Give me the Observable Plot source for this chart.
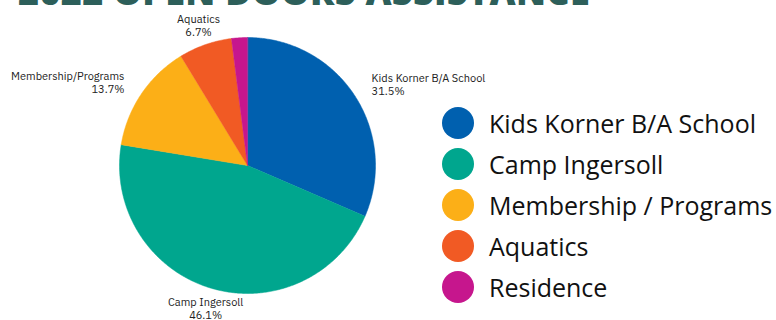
<!DOCTYPE html>
<html>
<head>
<meta charset="utf-8">
<script src="https://cdn.jsdelivr.net/npm/d3@7"></script>
<script src="https://cdn.jsdelivr.net/npm/@observablehq/plot@0.6"></script>
<style>
  html, body { margin: 0; padding: 0; background: #fff; }
  #wrap { position: relative; width: 776px; height: 320px; overflow: hidden; }
  #title { position: absolute; left: 18px; top: -26px; font: 800 36px/1 "Open Sans", "DejaVu Sans", sans-serif; color: #2D5F5A; white-space: nowrap; letter-spacing: 0.3px; }
  #legend { position: absolute; left: 442px; top: 102px; font-family: "Open Sans", "Noto Sans", sans-serif; }
  .row { display: flex; align-items: center; height: 41px; }
  .sw { width: 32px; height: 32px; border-radius: 50%; margin-right: 15px; flex: none; }
  .lab { font-size: 25px; color: #111; white-space: nowrap; }
</style>
</head>
<body>
<div id="wrap">
  <div id="chart"></div>
  <div id="title"></div>
  <div id="legend"></div>
</div>
<script>
const titleText = "2022 OPEN DOORS ASSISTANCE";
const categories = ["Kids Korner B/A School", "Camp Ingersoll", "Membership/Programs", "Aquatics", "Residence"];
const legendLabels = ["Kids Korner B/A School", "Camp Ingersoll", "Membership / Programs", "Aquatics", "Residence"];
const values = [31.5, 46.1, 13.7, 6.7, 2.0];
const showLabel = [true, true, true, true, false];
const colors = ["#0060AF", "#00A68E", "#FCAF17", "#F15A24", "#C6168D"];

document.getElementById("title").textContent = titleText;

const W = 776, H = 320, cx = 247, cy = 165, R = 128;

const data = categories.map((c, i) => ({category: c, value: values[i], label: showLabel[i]}));
const arcs = d3.pie().sort(null).value(d => d.value)(data);

// polygon points for each slice (unit circle coordinates, angle clockwise from top)
const pts = [];
arcs.forEach(a => {
  const n = Math.max(2, Math.ceil((a.endAngle - a.startAngle) / 0.01));
  pts.push({category: a.data.category, x: 0, y: 0});
  for (let k = 0; k <= n; k++) {
    const t = a.startAngle + (a.endAngle - a.startAngle) * k / n;
    pts.push({category: a.data.category, x: Math.sin(t), y: Math.cos(t)});
  }
});

const labR = 1.16;
const labels = arcs.filter(a => a.data.label).map(a => {
  const m = (a.startAngle + a.endAngle) / 2;
  const s = Math.sin(m);
  return {
    text: a.data.category + "\n" + a.data.value.toFixed(1) + "%",
    x: labR * s, y: labR * Math.cos(m),
    anchor: Math.abs(s) < 0.5 ? "middle" : (s > 0 ? "start" : "end")
  };
});

const textOpts = {x: "x", y: "y", text: "text", fontSize: 11, fill: "#222", lineHeight: 1.2,
  fontFamily: "'IBM Plex Sans', 'Noto Sans', sans-serif"};

const plot = Plot.plot({
  width: W, height: H,
  margin: 0,
  x: {domain: [-cx / R, (W - cx) / R], axis: null},
  y: {domain: [-(H - cy) / R, cy / R], axis: null},
  color: {domain: categories, range: colors},
  marks: [
    Plot.line(pts, {x: "x", y: "y", z: "category", fill: "category", stroke: "category", strokeWidth: 0.5, curve: "linear-closed"}),
    Plot.text(labels.filter(d => d.anchor === "middle"), {...textOpts, textAnchor: "middle"}),
    Plot.text(labels.filter(d => d.anchor === "start"), {...textOpts, textAnchor: "start"}),
    Plot.text(labels.filter(d => d.anchor === "end"), {...textOpts, textAnchor: "end"})
  ]
});
document.getElementById("chart").appendChild(plot);

const legend = document.getElementById("legend");
legendLabels.forEach((l, i) => {
  const row = document.createElement("div");
  row.className = "row";
  const sw = document.createElement("div");
  sw.className = "sw";
  sw.style.background = colors[i];
  const t = document.createElement("div");
  t.className = "lab";
  t.textContent = l;
  row.appendChild(sw); row.appendChild(t);
  legend.appendChild(row);
});
</script>
</body>
</html>
